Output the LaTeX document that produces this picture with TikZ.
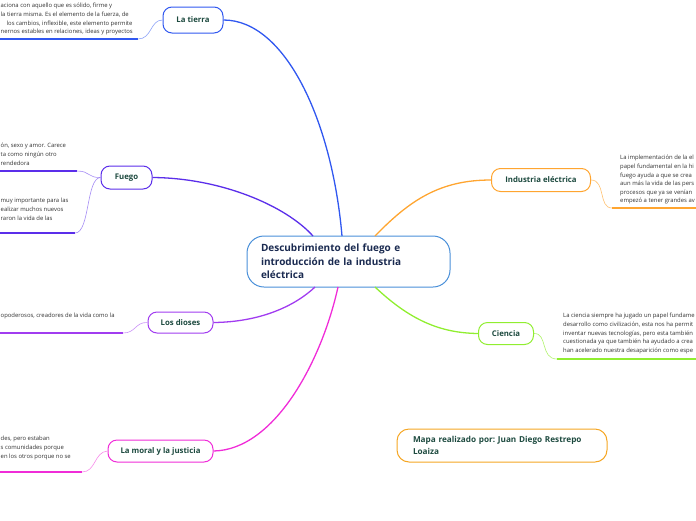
\documentclass[tikz,border=0pt]{standalone}
\usepackage{fontspec}
\setmainfont{Open Sans}
\frenchspacing
\usetikzlibrary{calc}
\definecolor{ctierra}{HTML}{3158F0}
\definecolor{cfuego}{HTML}{5B2EEA}
\definecolor{cdioses}{HTML}{A13CF0}
\definecolor{cmoral}{HTML}{F02CD8}
\definecolor{cind}{HTML}{FFA530}
\definecolor{ccien}{HTML}{90EE30}
\definecolor{ccenter}{HTML}{4A90D9}
\definecolor{cmapa}{HTML}{F5A623}
\definecolor{clabel}{HTML}{1D4A3F}
\definecolor{cnavy}{HTML}{1A2A50}
\definecolor{ctext}{HTML}{333333}
\tikzset{
  topicbox/.style={draw, line width=1pt, rounded corners=9pt, fill=white, inner sep=0pt,
    font=\fontsize{7.8}{9}\selectfont\bfseries, text=clabel, align=center},
  subtext/.style={inner sep=0pt, anchor=north west, align=left, text=ctext,
    font=\fontsize{5.9}{8.6}\selectfont},
  branch/.style={line width=1.3pt},
  uline/.style={line width=1.5pt},
  thin/.style={line width=0.6pt},
}
\begin{document}
\begin{tikzpicture}[x=1pt,y=-1pt]
\useasboundingbox (0,0) rectangle (696,520);
\clip (0,0) rectangle (696,520);

% center
\node[draw=ccenter, line width=1pt, rounded corners=17pt, fill=white, minimum height=51pt,
  text width=175pt, inner xsep=14pt, align=left, text=cnavy,
  font=\fontsize{10}{13.5}\selectfont\bfseries] (center) at (348.5,261.5)
  {Descubrimiento del fuego e\\introducción de la industria\\eléctrica};

\coordinate (cT) at (342,236);
\coordinate (cF) at (313,236);
\coordinate (cI) at (375,236);
\coordinate (cD) at (315,287);
\coordinate (cM) at (338,287);
\coordinate (cC) at (375,287);

% topics
\node[topicbox, draw=ctierra, minimum width=60pt, minimum height=26pt] (tierra) at (193,20) {La tierra};
\node[topicbox, draw=cfuego, minimum width=51pt, minimum height=23pt] (fuego) at (126.5,177.5) {Fuego};
\node[topicbox, draw=cdioses, minimum width=65pt, minimum height=21pt] (dioses) at (180.5,322.5) {Los dioses};
\node[topicbox, draw=cmoral, minimum width=105pt, minimum height=22pt] (moral) at (160.5,451) {La moral y la justicia};
\node[topicbox, draw=cind, minimum width=99pt, minimum height=23pt] (ind) at (541,180) {Industria eléctrica};
\node[topicbox, draw=ccien, minimum width=55pt, minimum height=22pt] (cien) at (506,333.5) {Ciencia};

\node[draw=cmapa, line width=1pt, rounded corners=12pt, minimum height=33pt,
  text width=178pt, inner xsep=16pt, align=left, text=clabel,
  font=\fontsize{8.2}{12}\selectfont\bfseries] (mapa) at (502,445.5)
  {Mapa realizado por: Juan Diego Restrepo\\Loaiza};

% main branches
\draw[branch, ctierra] (tierra.east) .. controls (285,20) and (332,120) .. (cT);
\draw[branch, cfuego] (fuego.east) .. controls (220,178) and (285,205) .. (cF);
\draw[branch, cdioses] (dioses.east) .. controls (262,322) and (296,305) .. (cD);
\draw[branch, cmoral] (moral.east) .. controls (275,450) and (322,360) .. (cM);
\draw[branch, cind] (cI) .. controls (410,200) and (440,180) .. (ind.west);
\draw[branch, ccien] (cC) .. controls (410,320) and (440,333) .. (cien.west);

% sub texts
\node[subtext] (ttext) at (0.5,3.2) {aciona con aquello que es sólido, firme y\\
la tierra misma. Es el elemento de la fuerza, de\\
\hspace*{6pt}los cambios, inflexible, este elemento permite\\
nernos estables en relaciones, ideas y proyectos};
\node[subtext] (ftext1) at (0.5,143.2) {ón, sexo y amor. Carece\\
ta como ningún otro\\
rendedora};
\node[subtext] (ftext2) at (0.5,198.2) {muy importante para las\\
ealizar muchos nuevos\\
raron la vida de las};
\node[subtext] (dtext) at (0.5,313.2) {opoderosos, creadores de la vida como la};
\node[subtext] (mtext) at (0.5,436.2) {des, pero estaban\\
s comunidades porque\\
en los otros porque no se};
\node[subtext] (itext) at (620,155.2) {La implementación de la el\\
papel fundamental en la hi\\
fuego ayuda a que se crea\\
aun más la vida de las pers\\
procesos que ya se venían\\
empezó a tener grandes av};
\node[subtext] (ctext) at (563,313.2) {La ciencia siempre ha jugado un papel fundame\\
desarrollo como civilización, esta nos ha permit\\
inventar nuevas tecnologías, pero esta también\\
cuestionada ya que también ha ayudado a crea\\
han acelerado nuestra desaparición como espe};

% sub connectors and underlines
\coordinate (tu0) at (0,39);   \coordinate (tu1) at (138,39);
\coordinate (f1u0) at (0,171); \coordinate (f1u1) at (77,171);
\coordinate (f2u0) at (0,233); \coordinate (f2u1) at (75,233);
\coordinate (du0) at (0,333);  \coordinate (du1) at (123,333);
\coordinate (mu0) at (0,472);  \coordinate (mu1) at (82,472);
\coordinate (iu0) at (612,208); \coordinate (iu1) at (696,208);
\coordinate (cu0) at (557,359); \coordinate (cu1) at (696,359);

\draw[uline, ctierra] (tu0) -- (tu1);
\draw[thin, ctierra!55] (tu1) .. controls (152,39) and (150,20) .. (tierra.west);
\draw[uline, cfuego] (f1u0) -- (f1u1);
\draw[thin, cfuego!55] (f1u1) .. controls (90,171) and (88,178) .. (fuego.west);
\draw[uline, cfuego] (f2u0) -- (f2u1);
\draw[thin, cfuego!55] (f2u1) .. controls (90,233) and (86,178) .. (fuego.west);
\draw[uline, cdioses] (du0) -- (du1);
\draw[thin, cdioses!55] (du1) .. controls (136,333) and (135,322) .. (dioses.west);
\draw[uline, cmoral] (mu0) -- (mu1);
\draw[thin, cmoral!55] (mu1) .. controls (96,472) and (94,452) .. (moral.west);
\draw[thin, cind!70] (ind.east) .. controls (606,180) and (598,208) .. (iu0);
\draw[uline, cind] (iu0) -- (iu1);
\draw[thin, ccien!70] (cien.east) .. controls (548,333) and (540,359) .. (cu0);
\draw[uline, ccien] (cu0) -- (cu1);
\end{tikzpicture}
\end{document}
